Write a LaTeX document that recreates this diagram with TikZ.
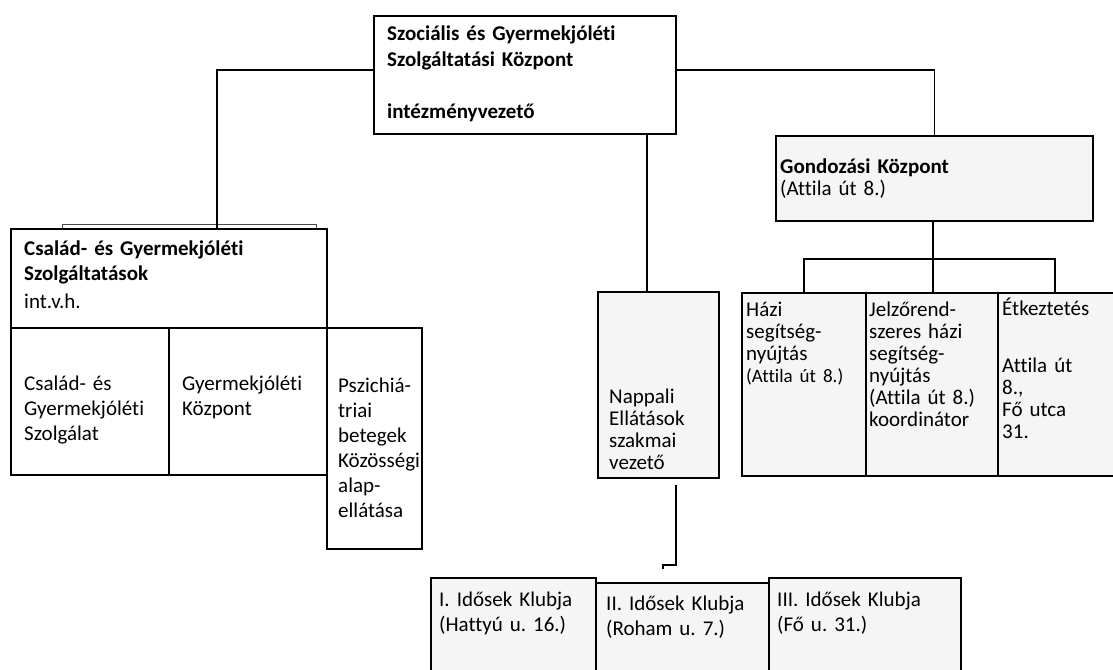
\documentclass[tikz,border=0pt]{standalone}
\usepackage{fontspec}
\setmainfont{Carlito}[Ligatures=NoCommon]
\frenchspacing
\begin{document}
\begin{tikzpicture}[x=1pt,y=-1pt,
  box/.style={draw, line width=1.7pt, inner sep=0pt, anchor=north west},
  spk/.style={box, fill=black!4},
  lbl/.style={anchor=base west, align=left, inner sep=0pt, text width=#1, font=\fontsize{21}{25}\selectfont},
  lbl/.default=300pt,
  lbr/.style={anchor=base west, align=left, inner sep=0pt, text width=#1, font=\fontsize{21}{22}\selectfont},
  lbr/.default=130pt,
  conn/.style={line width=1.5pt}]
\useasboundingbox (0,0) rectangle (1113,669);
\clip (0,0) rectangle (1113,669);
% boxes
\node[box, minimum width=302pt, minimum height=118pt] (top) at (373,15) {};
\node[box, minimum width=316pt, minimum height=99pt] (csgy) at (10,228) {};
\node[box, minimum width=158pt, minimum height=147pt] (sub1) at (10,327) {};
\node[box, minimum width=158pt, minimum height=147pt] (sub2) at (168,327) {};
\node[box, minimum width=95pt, minimum height=221pt] (pszi) at (326,327) {};
\node[spk, minimum width=121pt, minimum height=186pt] (nap) at (597,291) {};
\node[spk, minimum width=317pt, minimum height=85pt] (gond) at (775,135) {};
\node[spk, minimum width=124pt, minimum height=183pt] (hazi) at (741,292) {};
\node[spk, minimum width=132pt, minimum height=183pt] (jelzo) at (865,292) {};
\node[spk, minimum width=130pt, minimum height=183pt] (etk) at (997,292) {};
\node[spk, minimum width=165pt, minimum height=110pt] (k1) at (430,577) {};
\node[spk, minimum width=173pt, minimum height=110pt] (k2) at (595,582) {};
\node[spk, minimum width=192pt, minimum height=110pt] (k3) at (768,577) {};
% faint double line above the left box
\coordinate (dl1) at (62,228);
\coordinate (dl2) at (316,228);
\draw[line width=0.8pt, black!70] (dl1) -- ++(0,-4) -- ([yshift=4pt]dl2) -- (dl2);
% texts
\node[lbl, font=\bfseries\fontsize{21}{25.7}\selectfont] (ttop) at (387,41)
  {Szociális és Gyermekjóléti\\Szolgáltatási Központ\\\mbox{}\\intézményvezető};
\node[lbl] (tcsgy) at (24,255) {\textbf{Család- és Gyermekjóléti}\\\textbf{Szolgáltatások}\\[3pt]int.v.h.};
\node[lbl=140pt] (tsub1) at (24,390) {Család- és\\Gyermekjóléti\\Szolgálat};
\node[lbl=140pt] (tsub2) at (182,390) {Gyermekjóléti\\Központ};
\node[lbl=90pt] (tpszi) at (338,392) {Pszichiá-\\triai\\betegek\\Közösségi\\alap-\\ellátása};
\node[lbr=110pt] (tnap) at (609,403) {Nappali\\Ellátások\\szakmai\\vezető};
\node[lbr=300pt] (tgond) at (780,173) {\textbf{Gondozási Központ}\\(Attila út 8.)};
\node[lbr=120pt] (thazi) at (746,316) {Házi\\segítség-\\nyújtás\\{\fontsize{19}{22}\selectfont(Attila út 8.)}};
\node[lbr=128pt] (tjelzo) at (869,316) {Jelzőrend-\\szeres házi\\segítség-\\nyújtás\\(Attila út 8.)\\koordinátor};
\node[lbr=110pt] (tetk) at (1002,315) {Étkeztetés\\[35pt]Attila út\\8.,\\Fő utca\\31.};
\node[lbl=160pt] (tk1) at (439,606) {I. Idősek Klubja\\(Hattyú u. 16.)};
\node[lbl=160pt] (tk2) at (606,610) {II. Idősek Klubja\\(Roham u. 7.)};
\node[lbl=180pt] (tk3) at (777,606) {III. Idősek Klubja\\(Fő u. 31.)};
% connectors
\coordinate (jl) at (217,70);
\coordinate (jn) at (647,0);
\coordinate (gbus) at (933,259);
\draw[conn] (top.west |- jl) -| (csgy.north -| jl);
\draw[conn] (top.east |- jl) -| (gond.north);
\draw[conn] (top.south -| jn) -- (nap.north -| jn);
\draw[conn] (gond.south -| gbus) -- (jelzo.north -| gbus);
\draw[conn] (hazi.north) |- (gbus) -| (etk.north -| 1055,0);
\coordinate (nd1) at (676,485);
\coordinate (nd2) at (663,569);
\draw[conn] (nd1) -- (nd1 |- 0,565) -| (nd2);
\end{tikzpicture}
\end{document}
